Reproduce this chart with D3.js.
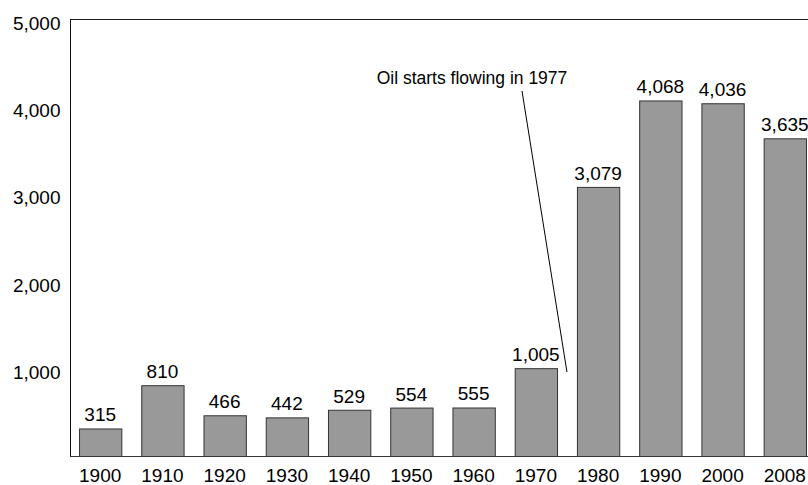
<!DOCTYPE html>
<html>
<head>
<meta charset="utf-8">
<script src="https://cdn.jsdelivr.net/npm/d3@7"></script>
<style>
  html, body { margin: 0; padding: 0; background: #fff; }
  svg { display: block; font-family: "Liberation Sans", Arial, Helvetica, sans-serif; }
</style>
</head>
<body>
<svg id="chart" width="808" height="485"></svg>
<script>
// Decade years and the values plotted for each
const years = ["1900", "1910", "1920", "1930", "1940", "1950", "1960", "1970", "1980", "1990", "2000", "2008"];
const values = [315, 810, 466, 442, 529, 554, 555, 1005, 3079, 4068, 4036, 3635];
const yTicks = [1000, 2000, 3000, 4000, 5000];
const annotationText = "Oil starts flowing in 1977";

(function () {
  const W = 808;
  const plotLeft = 70, plotTop = 19, plotBottom = 456;

  const svg = d3.select("#chart");

  const x = d3.scaleBand()
    .domain(years)
    .range([plotLeft, 815])
    .paddingInner(0.32)
    .paddingOuter(0.145);

  const y = d3.scaleLinear()
    .domain([0, 5000])
    .range([plotBottom, plotTop]);

  // Frame: top rule
  svg.append("line")
    .attr("x1", plotLeft).attr("x2", W)
    .attr("y1", plotTop + 0.5).attr("y2", plotTop + 0.5)
    .attr("stroke", "#222").attr("stroke-width", 1);

  // Bars
  svg.append("g")
    .selectAll("rect")
    .data(values)
    .join("rect")
    .attr("x", (d, i) => x(years[i]) + 0.5)
    .attr("y", d => y(d) + 0.5)
    .attr("width", x.bandwidth())
    .attr("height", d => plotBottom - y(d))
    .attr("fill", "#999999")
    .attr("stroke", "#333")
    .attr("stroke-width", 1);

  // Value labels above bars
  svg.append("g")
    .selectAll("text")
    .data(values)
    .join("text")
    .attr("x", (d, i) => x(years[i]) + x.bandwidth() / 2)
    .attr("y", d => y(d) - 7)
    .attr("text-anchor", "middle")
    .attr("font-size", 19)
    .attr("fill", "#000")
    .text(d => d3.format(",")(d));

  // Y axis
  const yAxis = svg.append("g")
    .attr("transform", `translate(${plotLeft + 0.5},0)`)
    .call(d3.axisLeft(y).tickValues(yTicks).tickFormat(d3.format(",")).tickSize(0).tickPadding(10));
  yAxis.select(".domain").attr("stroke", "#111").attr("d", `M0,${plotTop}V${plotBottom}`);
  yAxis.selectAll("text")
    .attr("font-size", 19)
    .attr("fill", "#000")
    .attr("y", 4);
  yAxis.attr("font-family", null).attr("font-size", null);

  // X axis
  const xAxis = svg.append("g")
    .attr("transform", `translate(0,${plotBottom + 0.5})`)
    .call(d3.axisBottom(x).tickSize(0).tickPadding(12));
  xAxis.select(".domain").attr("stroke", "#333").attr("d", `M${plotLeft},0H${W}`);
  xAxis.selectAll("text")
    .attr("font-size", 19)
    .attr("fill", "#000");
  xAxis.attr("font-family", null).attr("font-size", null);

  // Annotation: leader line into the gap between the 1970 and 1980 bars
  const gapX = (x("1970") + x.bandwidth() + x("1980")) / 2;
  svg.append("line")
    .attr("x1", 522).attr("y1", 91)
    .attr("x2", gapX).attr("y2", y(960))
    .attr("stroke", "#000").attr("stroke-width", 1);

  svg.append("text")
    .attr("x", 472)
    .attr("y", 84)
    .attr("text-anchor", "middle")
    .attr("font-size", 17.5)
    .attr("fill", "#000")
    .text(annotationText);
})();
</script>
</body>
</html>
